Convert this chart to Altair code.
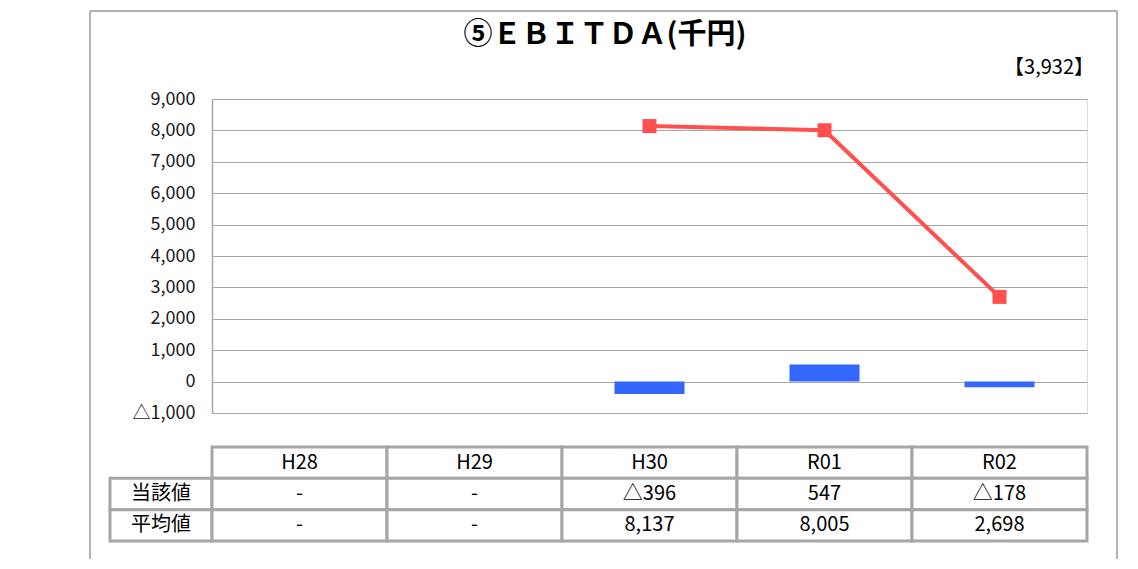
import altair as alt
import pandas as pd

# ---- data ----
categories = ["H28", "H29", "H30", "R01", "R02"]
current_values = [None, None, -396, 547, -178]      # 当該値
average_values = [None, None, 8137, 8005, 2698]     # 平均値
row_labels = ["当該値", "平均値"]
y_ticks = [-1000, 0, 1000, 2000, 3000, 4000, 5000, 6000, 7000, 8000, 9000]
title_text = "⑤ＥＢＩＴＤＡ(千円)"
reference_value = 3932

FONT = "Noto Sans CJK JP"
GRID = "#a6a6a6"
FRAME = "#b3b3b3"
RED = "#ff4f4f"
BLUE = "#3366ff"
W, H = 875, 314


def fmt(v):
    if v is None:
        return "-"
    return ("△" if v < 0 else "") + f"{abs(v):,}"


bar_df = pd.DataFrame({"cat": categories, "value": current_values}).dropna()
line_df = pd.DataFrame({"cat": categories, "value": average_values}).dropna()

xenc = alt.X("cat:N", scale=alt.Scale(type="band", domain=categories, paddingInner=0, paddingOuter=0), axis=None)
yenc = alt.Y(
    "value:Q",
    scale=alt.Scale(domain=[-1000, 9000], nice=False, zero=False),
    axis=alt.Axis(
        values=y_ticks,
        labelExpr="datum.value < 0 ? '△' + format(-datum.value, ',') : format(datum.value, ',')",
        grid=True, gridColor=GRID, gridWidth=1,
        domainColor=GRID, domainWidth=1.5,
        ticks=False, labelPadding=17, labelFontSize=18, labelFont=FONT, labelColor="#1a1a1a",
        title=None,
    ),
)

bars = alt.Chart(bar_df).mark_bar(size=70, color=BLUE).encode(x=xenc, y=yenc)
line = alt.Chart(line_df).mark_line(color=RED, strokeWidth=4).encode(x=xenc, y=yenc)
pts = alt.Chart(line_df).mark_point(shape="square", size=196, filled=True, color=RED, opacity=1).encode(x=xenc, y=yenc)

one = pd.DataFrame({"t": [title_text]})
title = alt.Chart(one).mark_text(font=FONT, fontSize=29, fontWeight="bold", color="#000000",
                                 align="center", baseline="middle").encode(
    x=alt.value(393), y=alt.value(-64), text="t:N")
ref = alt.Chart(pd.DataFrame({"t": [f"【{reference_value:,}】"]})).mark_text(
    font=FONT, fontSize=20, color="#000000", align="right", baseline="middle").encode(
    x=alt.value(882), y=alt.value(-31), text="t:N")

frame_df = pd.DataFrame({"k": [0]})
frame_left = alt.Chart(frame_df).mark_rule(color=FRAME, strokeWidth=2).encode(
    x=alt.value(-122), y=alt.value(-88), y2=alt.value(460))
frame_right = alt.Chart(frame_df).mark_rule(color=FRAME, strokeWidth=2).encode(
    x=alt.value(905), y=alt.value(-88), y2=alt.value(460))
frame_top = alt.Chart(frame_df).mark_rule(color=FRAME, strokeWidth=2).encode(
    x=alt.value(-122), x2=alt.value(905), y=alt.value(-88))

plot = alt.layer(bars, line, pts, title, ref, frame_left, frame_right, frame_top).properties(width=W, height=H)

# ---- table ----
rows = []
for c, cv, av in zip(categories, current_values, average_values):
    rows.append({"cat": c, "row": "header", "t": c})
    rows.append({"cat": c, "row": row_labels[0], "t": fmt(cv)})
    rows.append({"cat": c, "row": row_labels[1], "t": fmt(av)})
table_df = pd.DataFrame(rows)
label_df = pd.DataFrame({"row": row_labels, "t": row_labels})

tx = alt.X("cat:N", scale=alt.Scale(type="band", domain=categories, paddingInner=0, paddingOuter=0), axis=None)
ty = alt.Y("row:N", scale=alt.Scale(type="band", domain=["header"] + row_labels, paddingInner=0, paddingOuter=0), axis=None)

cells = alt.Chart(table_df).mark_rect(fill="white", stroke=GRID, strokeWidth=3).encode(x=tx, y=ty)
cell_text = alt.Chart(table_df).mark_text(font=FONT, fontSize=20, color="#000000", baseline="middle").encode(
    x=tx, y=ty, text="t:N")
label_cells = alt.Chart(label_df).mark_rect(fill="white", stroke=GRID, strokeWidth=3).encode(
    x=alt.value(-102), x2=alt.value(0), y=ty)
label_text = alt.Chart(label_df).mark_text(font=FONT, fontSize=20, color="#000000", baseline="middle").encode(
    x=alt.value(-51), y=ty, text="t:N")

table = alt.layer(label_cells, cells, label_text, cell_text).properties(width=W, height=94)

chart = alt.vconcat(plot, table, spacing=34, bounds="flush").properties(
    padding={"left": 80, "top": 1, "right": 5, "bottom": 0}
).configure_view(strokeWidth=0).configure(font=FONT)

chart.save("out.html", embed_options={"renderer": "svg", "actions": False})
